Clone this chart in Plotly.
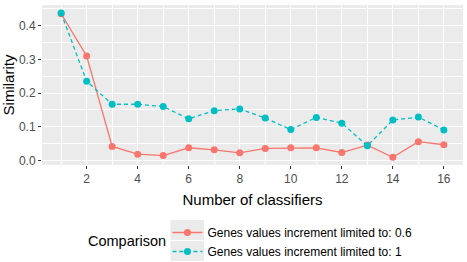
import plotly.graph_objects as go

classifiers = list(range(1, 17))
sim_06 = [0.435, 0.31, 0.042, 0.019, 0.015, 0.038, 0.032, 0.023, 0.036, 0.038, 0.038, 0.024, 0.046, 0.010, 0.056, 0.047]
sim_1 = [0.437, 0.235, 0.167, 0.167, 0.160, 0.124, 0.148, 0.153, 0.126, 0.092, 0.128, 0.111, 0.044, 0.120, 0.129, 0.091]
series_names = ["Genes values increment limited to: 0.6", "Genes values increment limited to: 1"]
x_ticks = [2, 4, 6, 8, 10, 12, 14, 16]
y_ticks = [0.0, 0.1, 0.2, 0.3, 0.4]

FONT = "Liberation Sans, Arial, sans-serif"

fig = go.Figure()
fig.add_trace(go.Scatter(
    x=classifiers, y=sim_06, name=series_names[0], mode="lines+markers",
    line=dict(color="#F8766D", width=1.3),
    marker=dict(color="#F8766D", size=7),
))
fig.add_trace(go.Scatter(
    x=classifiers, y=sim_1, name=series_names[1], mode="lines+markers",
    line=dict(color="#00BFC4", width=1.3, dash="4px,3px"),
    marker=dict(color="#00BFC4", size=7),
))

# legend key backgrounds (ggplot style)
for y0, y1 in [(-0.344, -0.469), (-0.475, -0.6)]:
    fig.add_shape(type="rect", xref="paper", yref="paper", x0=0.305, x1=0.385, y0=y0, y1=y1,
                  fillcolor="#EBEBEB", line=dict(width=0), layer="below")

fig.add_annotation(text="Comparison", xref="paper", yref="paper", x=0.30, y=-0.472,
                   xanchor="right", yanchor="middle", showarrow=False,
                   font=dict(family=FONT, size=14.5, color="#000000"))

fig.update_layout(
    width=467, height=262,
    margin=dict(l=40, r=4, t=5, b=97),
    paper_bgcolor="white", plot_bgcolor="#EBEBEB",
    font=dict(family=FONT, color="#000000"),
    showlegend=True,
    legend=dict(x=0.298, y=0.168, xref="paper", yref="container", xanchor="left", yanchor="top",
                font=dict(family=FONT, size=12, color="#000000"),
                bgcolor="rgba(0,0,0,0)", tracegroupgap=0, itemwidth=30),
)
fig.update_xaxes(
    range=[0.25, 16.75], tickvals=x_ticks, ticktext=[str(v) for v in x_ticks],
    showgrid=True, gridcolor="white", gridwidth=1.2, zeroline=False,
    minor=dict(dtick=1, tick0=1, showgrid=True, gridcolor="white", gridwidth=0.6),
    ticks="outside", ticklen=3, tickcolor="#333333", tickwidth=1,
    tickfont=dict(family=FONT, size=12, color="#4D4D4D"),
    title=dict(text="Number of classifiers", font=dict(family=FONT, size=15, color="#000000"), standoff=9),
)
fig.update_yaxes(
    range=[-0.013, 0.461], tickvals=y_ticks, ticktext=["0.0", "0.1", "0.2", "0.3", "0.4"],
    showgrid=True, gridcolor="white", gridwidth=1.2, zeroline=False,
    minor=dict(dtick=0.05, tick0=0.05, showgrid=True, gridcolor="white", gridwidth=0.6),
    ticks="outside", ticklen=3, tickcolor="#333333", tickwidth=1,
    tickfont=dict(family=FONT, size=12, color="#4D4D4D"),
    title=dict(text="Similarity", font=dict(family=FONT, size=15, color="#000000"), standoff=4),
)

fig.write_html("out.html")
